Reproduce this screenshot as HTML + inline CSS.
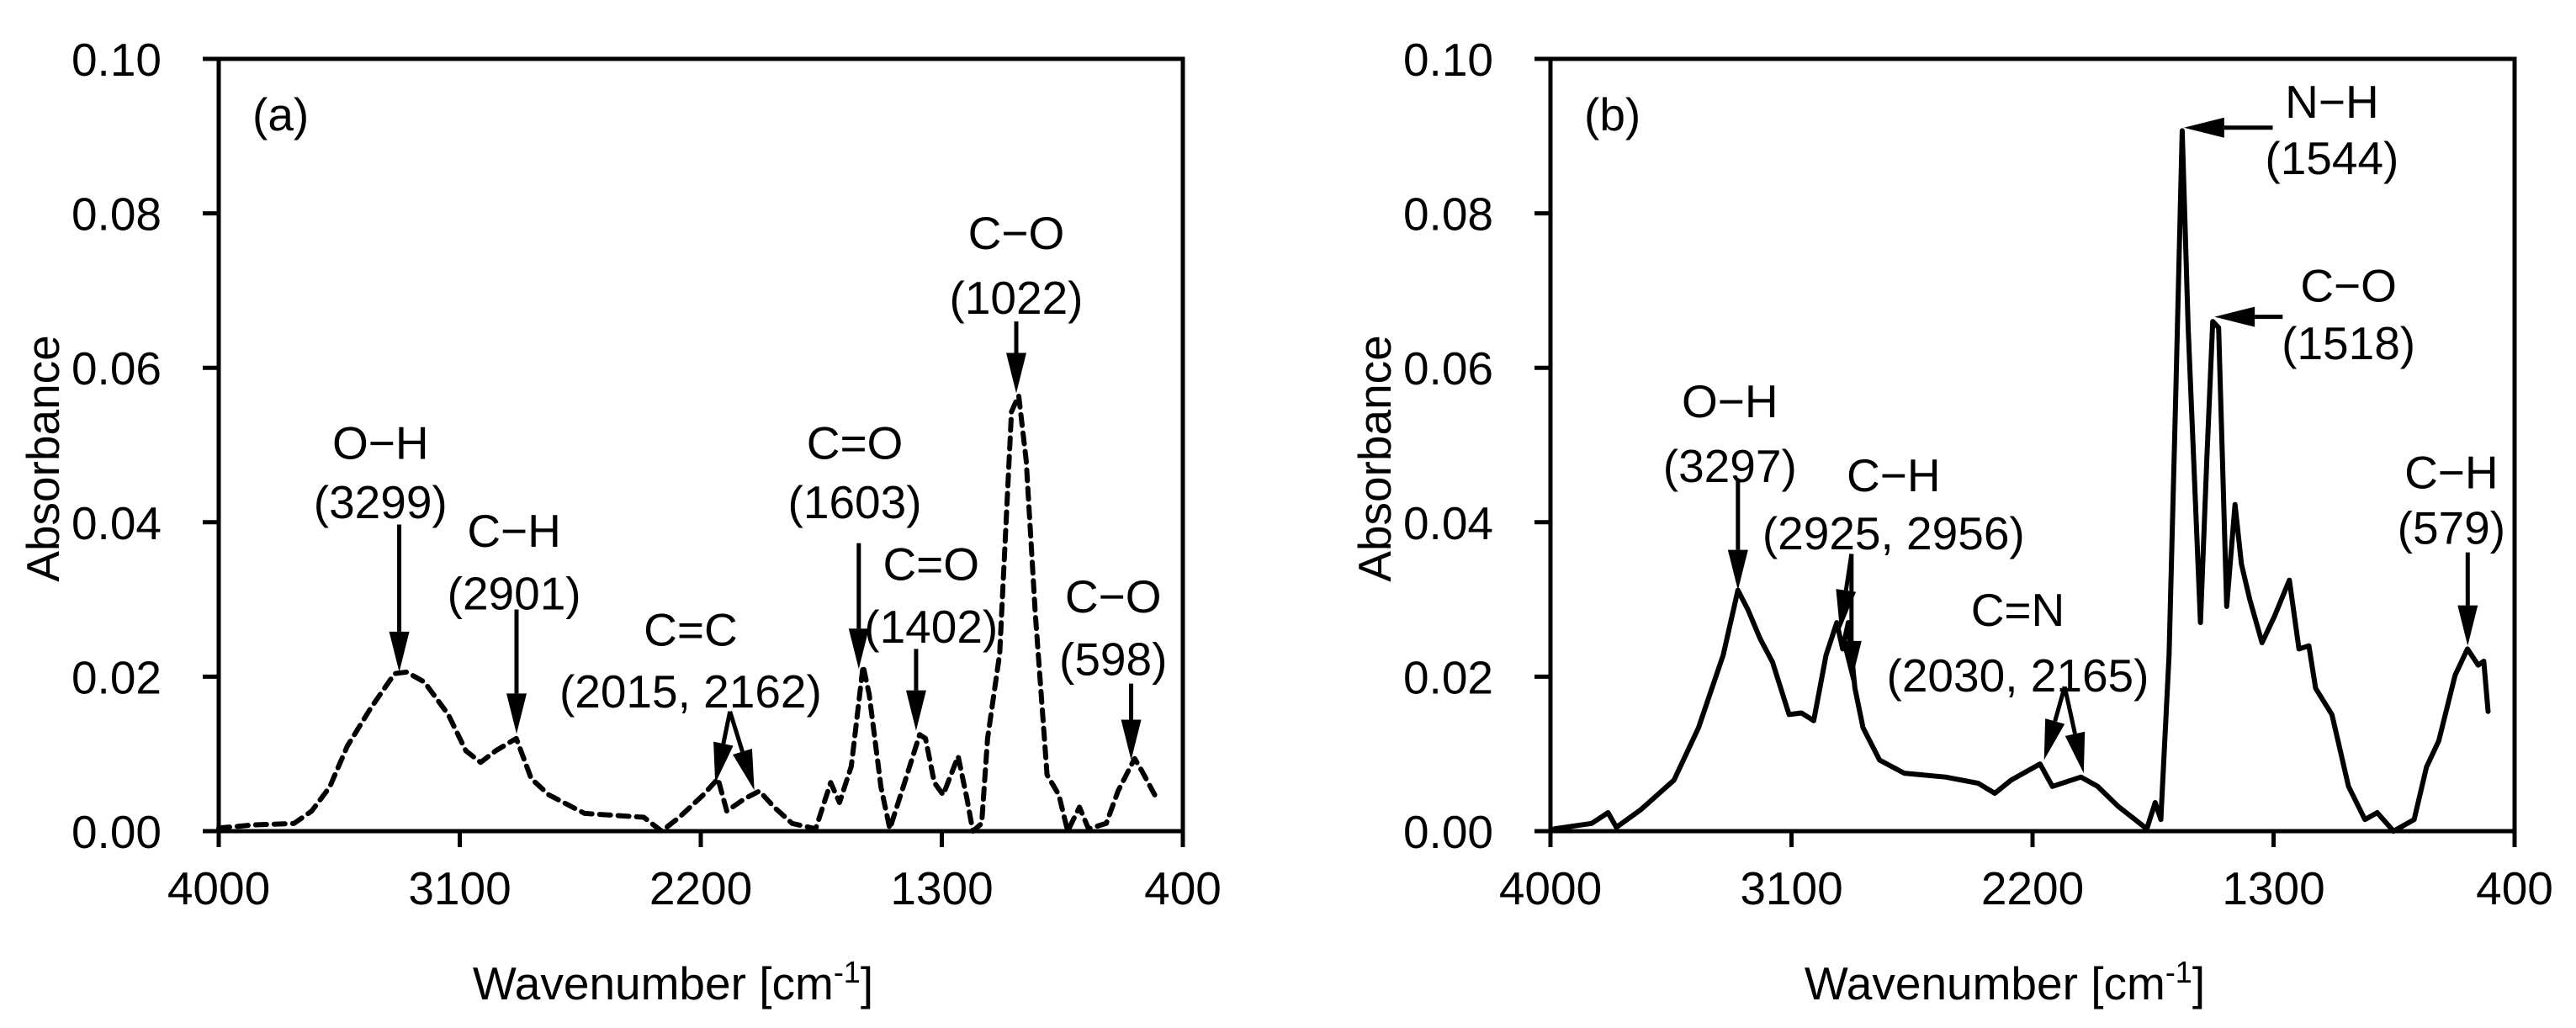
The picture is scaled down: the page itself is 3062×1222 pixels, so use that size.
<!DOCTYPE html>
<html><head><meta charset="utf-8"><style>
html,body{margin:0;padding:0;background:#fff;}
svg{display:block;font-family:"Liberation Sans",Arial,sans-serif;}
</style></head><body>
<svg id="chart" width="3062" height="1222" viewBox="0 0 3062 1222" xmlns="http://www.w3.org/2000/svg"></svg>
<script>
const xTicks = [4000, 3100, 2200, 1300, 400];
const yTicks = [0, 0.02, 0.04, 0.06, 0.08, 0.10];
const yTickLabels = ["0.00", "0.02", "0.04", "0.06", "0.08", "0.10"];
const wnA = [4000,3874,3719,3653,3586,3520,3431,3343,3298,3232,3143,3077,3022,2966,2889,2833,2767,2634,2413,2346,2280,2191,2136,2103,2036,1981,1926,1859,1771,1715,1682,1638,1594,1571,1527,1494,1439,1383,1361,1328,1295,1239,1206,1184,1151,1129,1084,1040,1013,985,951,907,863,830,786,752,686,642,580,553,505];
const absA = [0.0004,0.0008,0.001,0.0026,0.0057,0.011,0.016,0.0204,0.0206,0.0193,0.0151,0.0104,0.0089,0.0104,0.012,0.0068,0.0047,0.0023,0.0018,0.0,0.0018,0.0047,0.0068,0.0026,0.0042,0.0052,0.0031,0.001,0.0003,0.0063,0.0037,0.0084,0.0214,0.0177,0.0057,0.0003,0.0063,0.0125,0.012,0.0063,0.0047,0.0097,0.0042,0.0,0.001,0.012,0.023,0.0543,0.0564,0.048,0.0282,0.0073,0.0047,0.0,0.0031,0.0003,0.001,0.0052,0.0094,0.0078,0.0047];
const wnB = [3985,3846,3785,3754,3662,3539,3447,3355,3300,3263,3217,3171,3109,3063,3017,2971,2931,2909,2888,2863,2833,2771,2679,2525,2403,2341,2280,2172,2126,2019,1957,1880,1773,1742,1721,1690,1665,1641,1619,1573,1549,1527,1505,1475,1444,1420,1389,1343,1297,1241,1205,1168,1143,1082,1020,959,913,852,775,729,683,622,576,536,515,499];
const absB = [0.0003,0.001,0.0024,0.0005,0.0028,0.0066,0.0134,0.0228,0.0312,0.0287,0.0249,0.0219,0.0151,0.0153,0.0143,0.0228,0.027,0.0236,0.027,0.0185,0.0134,0.0092,0.0075,0.007,0.0062,0.0049,0.0066,0.0087,0.0058,0.007,0.0058,0.0032,0.0003,0.0037,0.0015,0.0228,0.0567,0.0907,0.0652,0.027,0.0482,0.066,0.0652,0.0291,0.0423,0.0346,0.03,0.0244,0.0278,0.0325,0.0236,0.024,0.0185,0.0151,0.0058,0.0015,0.0024,0.0,0.0015,0.0083,0.0117,0.0202,0.0236,0.0215,0.022,0.0155];
// annotations: [line1, line2, wn center, baseline1 value, baseline2 value]
const labelsA = [["O\u2212H","(3299)",3396,0.0482,0.0405],["C\u2212H","(2901)",2897,0.0368,0.0287],["C=C","(2015, 2162)",2238,0.024,0.016],["C=O","(1603)",1625,0.0482,0.0405],["C=O","(1402)",1340,0.0325,0.0244],["C\u2212O","(1022)",1022,0.0754,0.067],["C\u2212O","(598)",660,0.0283,0.0202]];
const arrowsA = [[3326,0.0397,3326,0.0206],[2888,0.0287,2888,0.0126],[2091,0.0155,2146,0.0062],[2091,0.0155,2000,0.0053],[1610,0.0373,1610,0.021],[1396,0.0236,1396,0.013],[1022,0.066,1022,0.0567],[593,0.0191,593,0.0092]];
const labelsB = [["O\u2212H","(3297)",3330,0.0536,0.0452],["C\u2212H","(2925, 2956)",2719,0.044,0.0365],["C=N","(2030, 2165)",2255,0.0266,0.0181],["N\u2212H","(1544)",1082,0.0924,0.0851],["C\u2212O","(1518)",1020,0.0686,0.0611],["C\u2212H","(579)",636,0.0444,0.0372]];
const arrowsB = [[3300,0.0455,3300,0.0312],[2876,0.0359,2919,0.026],[2876,0.0359,2876,0.0194],[2080,0.0187,2157,0.0092],[2080,0.0187,2009,0.0075],[1303,0.0911,1635,0.0911],[1266,0.0666,1521,0.0666],[575,0.0361,575,0.024]];

const NS = "http://www.w3.org/2000/svg";
const svg = document.getElementById('chart');
function mk(tag, attrs, parent){ const e=document.createElementNS(NS,tag); for(const k in attrs) e.setAttribute(k,attrs[k]); (parent||svg).appendChild(e); return e; }

function panel(id, left, wn, ab, labels, arrows, dashed, letter){
  const top=70, bottom=988, right=left+1146;
  const xs = w => left + (4000-w)/3600*1146;
  const ys = v => bottom - v/0.1*918;
  const g = mk('g',{});
  
  
  // axes box
  const frame = mk('rect',{x:left,y:top,width:1146,height:918,fill:'none',stroke:'#000','stroke-width':5},g);
  
  
  yTicks.forEach((t,i)=>{
    const y=ys(t);
    const tk=mk('line',{x1:left-19,x2:left,y1:y,y2:y,stroke:'#000','stroke-width':5},g);
    
    
    const tx=mk('text',{x:left-68,y:y+20,'font-size':55,'text-anchor':'end'},g);
    tx.textContent=yTickLabels[i];
    
    
  });
  xTicks.forEach(t=>{
    const x=xs(t);
    const tk=mk('line',{x1:x,x2:x,y1:bottom,y2:bottom+19,stroke:'#000','stroke-width':5},g);
    
    
    const tx=mk('text',{x:x,y:1075,'font-size':55,'text-anchor':'middle'},g);
    tx.textContent=String(t);
    
    
  });
  const yt=mk('text',{x:0,y:0,'font-size':55,'text-anchor':'middle',transform:`translate(${left-190},545) rotate(-90)`},g);
  yt.textContent='Absorbance';
  
  
  const xt=mk('text',{x:left+540,y:1188,'font-size':55,'text-anchor':'middle'},g);
  xt.innerHTML='Wavenumber [cm<tspan dy="-20" font-size="36">-1</tspan><tspan dy="20">]</tspan>';
  
  
  const pl=mk('text',{x:left+40,y:155,'font-size':55},g);
  pl.textContent=letter;
  
  
  // series
  const pts = wn.map((w,i)=>xs(w).toFixed(1)+','+ys(ab[i]).toFixed(1)).join(' ');
  const line=mk('polyline',{points:pts,fill:'none',stroke:'#000','stroke-width':6,'stroke-linejoin':'round','stroke-linecap':'round'},g);
  if(dashed) line.setAttribute('stroke-dasharray','13 9');
  
  
  // labels
  labels.forEach(l=>{
    const t1=mk('text',{x:xs(l[2]),y:ys(l[3]),'font-size':55,'text-anchor':'middle'},g);
    t1.textContent=l[0];
    
    
    const t2=mk('text',{x:xs(l[2]),y:ys(l[4]),'font-size':55,'text-anchor':'middle'},g);
    t2.textContent=l[1];
    
    
  });
  arrows.forEach(a=>{
    const x1=xs(a[0]),y1=ys(a[1]),x2=xs(a[2]),y2=ys(a[3]);
    const dx=x2-x1, dy=y2-y1, L=Math.hypot(dx,dy), ux=dx/L, uy=dy/L;
    const hl=48, hw=12;
    const bx=x2-ux*hl, by=y2-uy*hl;
    const ln=mk('line',{x1:x1,y1:y1,x2:bx,y2:by,stroke:'#000','stroke-width':5},g);
    
    
    const hd=mk('polygon',{points:`${x2},${y2} ${bx-uy*hw},${by+ux*hw} ${bx+uy*hw},${by-ux*hw}`,fill:'#000'},g);
    
    
  });
}
panel('a',260,wnA,absA,labelsA,arrowsA,true,'(a)');
panel('b',1843,wnB,absB,labelsB,arrowsB,false,'(b)');
</script>
</body></html>
